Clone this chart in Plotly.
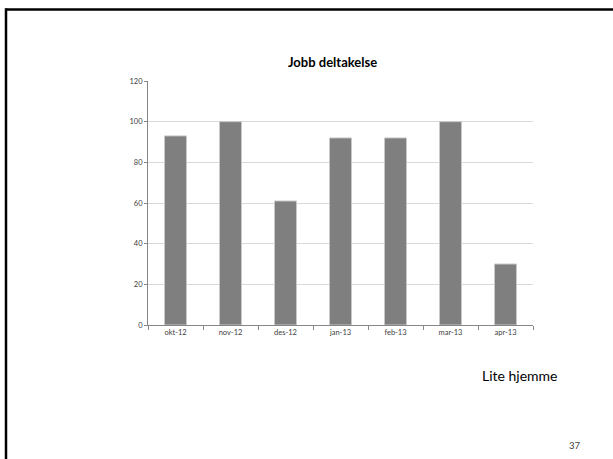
import plotly.graph_objects as go

categories = ["okt-12", "nov-12", "des-12", "jan-13", "feb-13", "mar-13", "apr-13"]
values = [93, 100, 61, 92, 92, 100, 30]
y_ticks = [0, 20, 40, 60, 80, 100, 120]

W, H = 613, 459
L, R, T, B = 148, 80, 81, 134
pw, ph = W - L - R, H - T - B

def px(x):
    return (x - L) / pw

def py(y):
    return (H - B - y) / ph

FONT = "Lato, 'Open Sans', sans-serif"

fig = go.Figure(go.Bar(
    x=categories, y=values,
    marker=dict(color="#7f7f7f", line=dict(color="#c8c8c8", width=1)),
))

fig.update_layout(
    width=W, height=H,
    margin=dict(l=L, r=R, t=T, b=B),
    paper_bgcolor="white", plot_bgcolor="white",
    bargap=0.6,
    showlegend=False,
    font=dict(family=FONT, color="#404040"),
    xaxis=dict(
        showline=True, linecolor="#868686", linewidth=1,
        ticks="outside", tickson="boundaries", ticklen=4, tickcolor="#868686",
        tickfont=dict(size=7.5, color="#404040"),
        showgrid=False,
    ),
    yaxis=dict(
        range=[0, 120], tickvals=y_ticks,
        showline=True, linecolor="#868686", linewidth=1,
        ticks="outside", ticklen=3, tickcolor="#868686",
        tickfont=dict(size=7.5, color="#404040"),
        showgrid=True, gridcolor="#d9d9d9", gridwidth=1,
        zeroline=False,
    ),
    annotations=[
        dict(text="<b>Jobb deltakelse</b>", xref="paper", yref="paper",
             x=px(332), y=py(62), xanchor="center", yanchor="middle",
             showarrow=False, font=dict(size=13, color="black", family=FONT)),
        dict(text="Lite hjemme", xref="paper", yref="paper",
             x=px(480), y=py(375), xanchor="left", yanchor="middle",
             showarrow=False, font=dict(size=14, color="black", family=FONT)),
        dict(text="37", xref="paper", yref="paper",
             x=px(567), y=py(445), xanchor="left", yanchor="middle",
             showarrow=False, font=dict(size=9.5, color="#404040", family=FONT)),
    ],
    shapes=[
        dict(type="line", xref="paper", yref="paper",
             x0=px(6), x1=px(W + 5), y0=py(9.5), y1=py(9.5),
             line=dict(color="black", width=2.5)),
        dict(type="line", xref="paper", yref="paper",
             x0=px(6), x1=px(6), y0=py(8.3), y1=py(H + 5),
             line=dict(color="black", width=2.5)),
    ],
)

fig.write_html(
    "out.html",
    config={"displayModeBar": False},
    post_script="document.body.style.margin='0';document.body.style.overflow='hidden';",
)
